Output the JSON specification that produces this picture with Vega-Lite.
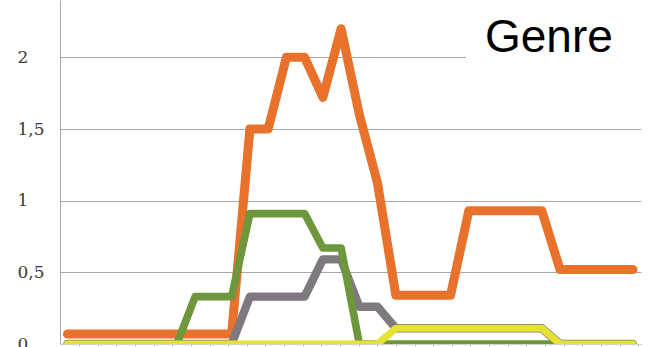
{
  "$schema": "https://vega.github.io/schema/vega-lite/v6.json",
  "width": 581,
  "height": 344,
  "autosize": {"type": "none"},
  "padding": {"left": 60, "top": 0, "right": 15, "bottom": 3},
  "background": "white",
  "config": {"view": {"stroke": null}},
  "data": {
    "values": [
      {"t":0,"genre":"Genre A","v":0.07},{"t":1,"genre":"Genre A","v":0.07},{"t":2,"genre":"Genre A","v":0.07},{"t":3,"genre":"Genre A","v":0.07},
      {"t":4,"genre":"Genre A","v":0.07},{"t":5,"genre":"Genre A","v":0.07},{"t":6,"genre":"Genre A","v":0.07},{"t":7,"genre":"Genre A","v":0.07},
      {"t":8,"genre":"Genre A","v":0.07},{"t":9,"genre":"Genre A","v":0.07},{"t":10,"genre":"Genre A","v":1.5},{"t":11,"genre":"Genre A","v":1.5},
      {"t":12,"genre":"Genre A","v":2.0},{"t":13,"genre":"Genre A","v":2.0},{"t":14,"genre":"Genre A","v":1.72},{"t":15,"genre":"Genre A","v":2.2},
      {"t":16,"genre":"Genre A","v":1.6},{"t":17,"genre":"Genre A","v":1.12},{"t":18,"genre":"Genre A","v":0.34},{"t":19,"genre":"Genre A","v":0.34},
      {"t":20,"genre":"Genre A","v":0.34},{"t":21,"genre":"Genre A","v":0.34},{"t":22,"genre":"Genre A","v":0.93},{"t":23,"genre":"Genre A","v":0.93},
      {"t":24,"genre":"Genre A","v":0.93},{"t":25,"genre":"Genre A","v":0.93},{"t":26,"genre":"Genre A","v":0.93},{"t":27,"genre":"Genre A","v":0.52},
      {"t":28,"genre":"Genre A","v":0.52},{"t":29,"genre":"Genre A","v":0.52},{"t":30,"genre":"Genre A","v":0.52},{"t":31,"genre":"Genre A","v":0.52},

      {"t":0,"genre":"Genre B","v":0},{"t":1,"genre":"Genre B","v":0},{"t":2,"genre":"Genre B","v":0},{"t":3,"genre":"Genre B","v":0},
      {"t":4,"genre":"Genre B","v":0},{"t":5,"genre":"Genre B","v":0},{"t":6,"genre":"Genre B","v":0},{"t":7,"genre":"Genre B","v":0},
      {"t":8,"genre":"Genre B","v":0},{"t":9,"genre":"Genre B","v":0},{"t":10,"genre":"Genre B","v":0.33},{"t":11,"genre":"Genre B","v":0.33},
      {"t":12,"genre":"Genre B","v":0.33},{"t":13,"genre":"Genre B","v":0.33},{"t":14,"genre":"Genre B","v":0.59},{"t":15,"genre":"Genre B","v":0.59},
      {"t":16,"genre":"Genre B","v":0.26},{"t":17,"genre":"Genre B","v":0.26},{"t":18,"genre":"Genre B","v":0.11},{"t":19,"genre":"Genre B","v":0.11},
      {"t":20,"genre":"Genre B","v":0.11},{"t":21,"genre":"Genre B","v":0.11},{"t":22,"genre":"Genre B","v":0.11},{"t":23,"genre":"Genre B","v":0.11},
      {"t":24,"genre":"Genre B","v":0.11},{"t":25,"genre":"Genre B","v":0.11},{"t":26,"genre":"Genre B","v":0.11},{"t":27,"genre":"Genre B","v":0},
      {"t":28,"genre":"Genre B","v":0},{"t":29,"genre":"Genre B","v":0},{"t":30,"genre":"Genre B","v":0},{"t":31,"genre":"Genre B","v":0},

      {"t":0,"genre":"Genre C","v":0},{"t":1,"genre":"Genre C","v":0},{"t":2,"genre":"Genre C","v":0},{"t":3,"genre":"Genre C","v":0},
      {"t":4,"genre":"Genre C","v":0},{"t":5,"genre":"Genre C","v":0},{"t":6,"genre":"Genre C","v":0},{"t":7,"genre":"Genre C","v":0.33},
      {"t":8,"genre":"Genre C","v":0.33},{"t":9,"genre":"Genre C","v":0.33},{"t":10,"genre":"Genre C","v":0.91},{"t":11,"genre":"Genre C","v":0.91},
      {"t":12,"genre":"Genre C","v":0.91},{"t":13,"genre":"Genre C","v":0.91},{"t":14,"genre":"Genre C","v":0.67},{"t":15,"genre":"Genre C","v":0.67},
      {"t":16,"genre":"Genre C","v":0},{"t":17,"genre":"Genre C","v":0},{"t":18,"genre":"Genre C","v":0},{"t":19,"genre":"Genre C","v":0},
      {"t":20,"genre":"Genre C","v":0},{"t":21,"genre":"Genre C","v":0},{"t":22,"genre":"Genre C","v":0},{"t":23,"genre":"Genre C","v":0},
      {"t":24,"genre":"Genre C","v":0},{"t":25,"genre":"Genre C","v":0},{"t":26,"genre":"Genre C","v":0},{"t":27,"genre":"Genre C","v":0},
      {"t":28,"genre":"Genre C","v":0},{"t":29,"genre":"Genre C","v":0},{"t":30,"genre":"Genre C","v":0},{"t":31,"genre":"Genre C","v":0},

      {"t":0,"genre":"Genre D","v":0},{"t":1,"genre":"Genre D","v":0},{"t":2,"genre":"Genre D","v":0},{"t":3,"genre":"Genre D","v":0},
      {"t":4,"genre":"Genre D","v":0},{"t":5,"genre":"Genre D","v":0},{"t":6,"genre":"Genre D","v":0},{"t":7,"genre":"Genre D","v":0},
      {"t":8,"genre":"Genre D","v":0},{"t":9,"genre":"Genre D","v":0},{"t":10,"genre":"Genre D","v":0},{"t":11,"genre":"Genre D","v":0},
      {"t":12,"genre":"Genre D","v":0},{"t":13,"genre":"Genre D","v":0},{"t":14,"genre":"Genre D","v":0},{"t":15,"genre":"Genre D","v":0},
      {"t":16,"genre":"Genre D","v":0},{"t":17,"genre":"Genre D","v":0},{"t":18,"genre":"Genre D","v":0.11},{"t":19,"genre":"Genre D","v":0.11},
      {"t":20,"genre":"Genre D","v":0.11},{"t":21,"genre":"Genre D","v":0.11},{"t":22,"genre":"Genre D","v":0.11},{"t":23,"genre":"Genre D","v":0.11},
      {"t":24,"genre":"Genre D","v":0.11},{"t":25,"genre":"Genre D","v":0.11},{"t":26,"genre":"Genre D","v":0.11},{"t":27,"genre":"Genre D","v":0},
      {"t":28,"genre":"Genre D","v":0},{"t":29,"genre":"Genre D","v":0},{"t":30,"genre":"Genre D","v":0},{"t":31,"genre":"Genre D","v":0}
    ]
  },
  "mark": {"type": "line", "clip": true, "strokeCap": "round", "strokeJoin": "round"},
  "encoding": {
    "x": {
      "field": "t",
      "type": "quantitative",
      "scale": {"domain": [-0.41, 31.44], "nice": false, "zero": false},
      "axis": {
        "values": [0.633,1.655,2.677,3.698,4.72,5.742,6.764,7.786,8.808,9.83,10.852,11.874,12.896,13.918,14.94,15.962,16.984,18.006,19.027,20.049,21.071,22.093,23.115,24.137,25.159,26.181,27.203,28.225,29.247,30.269,31.291],
        "labels": false,
        "title": null,
        "grid": false,
        "tickSize": 3,
        "tickColor": "#c8c8c8",
        "domainColor": "#d0d0d0"
      }
    },
    "y": {
      "field": "v",
      "type": "quantitative",
      "scale": {"domain": [0, 2.4], "nice": false},
      "axis": {
        "values": [0, 0.5, 1, 1.5, 2],
        "title": null,
        "labelExpr": "replace(format(datum.value, '~g'), '.', ',')",
        "labelAlign": "left",
        "labelBaseline": "middle",
        "labelPadding": 43,
        "ticks": false,
        "tickSize": 0,
        "labelFont": "DejaVu Serif",
        "labelFontSize": 17,
        "labelColor": "#3a3a3a",
        "grid": true,
        "gridColor": "#a8a8a8",
        "gridWidth": 1,
        "domainColor": "#a8a8a8"
      }
    },
    "color": {
      "field": "genre",
      "type": "nominal",
      "scale": {
        "domain": ["Genre A", "Genre B", "Genre C", "Genre D"],
        "range": ["#E8712B", "#807880", "#6E963C", "#E6E234"]
      },
      "legend": {
        "orient": "none",
        "legendX": 406,
        "legendY": -3,
        "title": "Genre",
        "titleFont": "Liberation Sans",
        "titleFontSize": 46,
        "titleFontWeight": "normal",
        "titleColor": "#000000",
        "titlePadding": 0,
        "padding": 19,
        "fillColor": "white",
        "columns": 4,
        "columnPadding": 60,
        "rowPadding": 0,
        "symbolOpacity": 0,
        "symbolStrokeWidth": 0,
        "symbolSize": 1,
        "labelOpacity": 0,
        "labelFontSize": 1,
        "labelExpr": "''"
      }
    },
    "strokeWidth": {
      "field": "genre",
      "type": "nominal",
      "scale": {"domain": ["Genre A", "Genre B", "Genre C", "Genre D"], "range": [9, 7, 9, 9]},
      "legend": null
    }
  }
}
